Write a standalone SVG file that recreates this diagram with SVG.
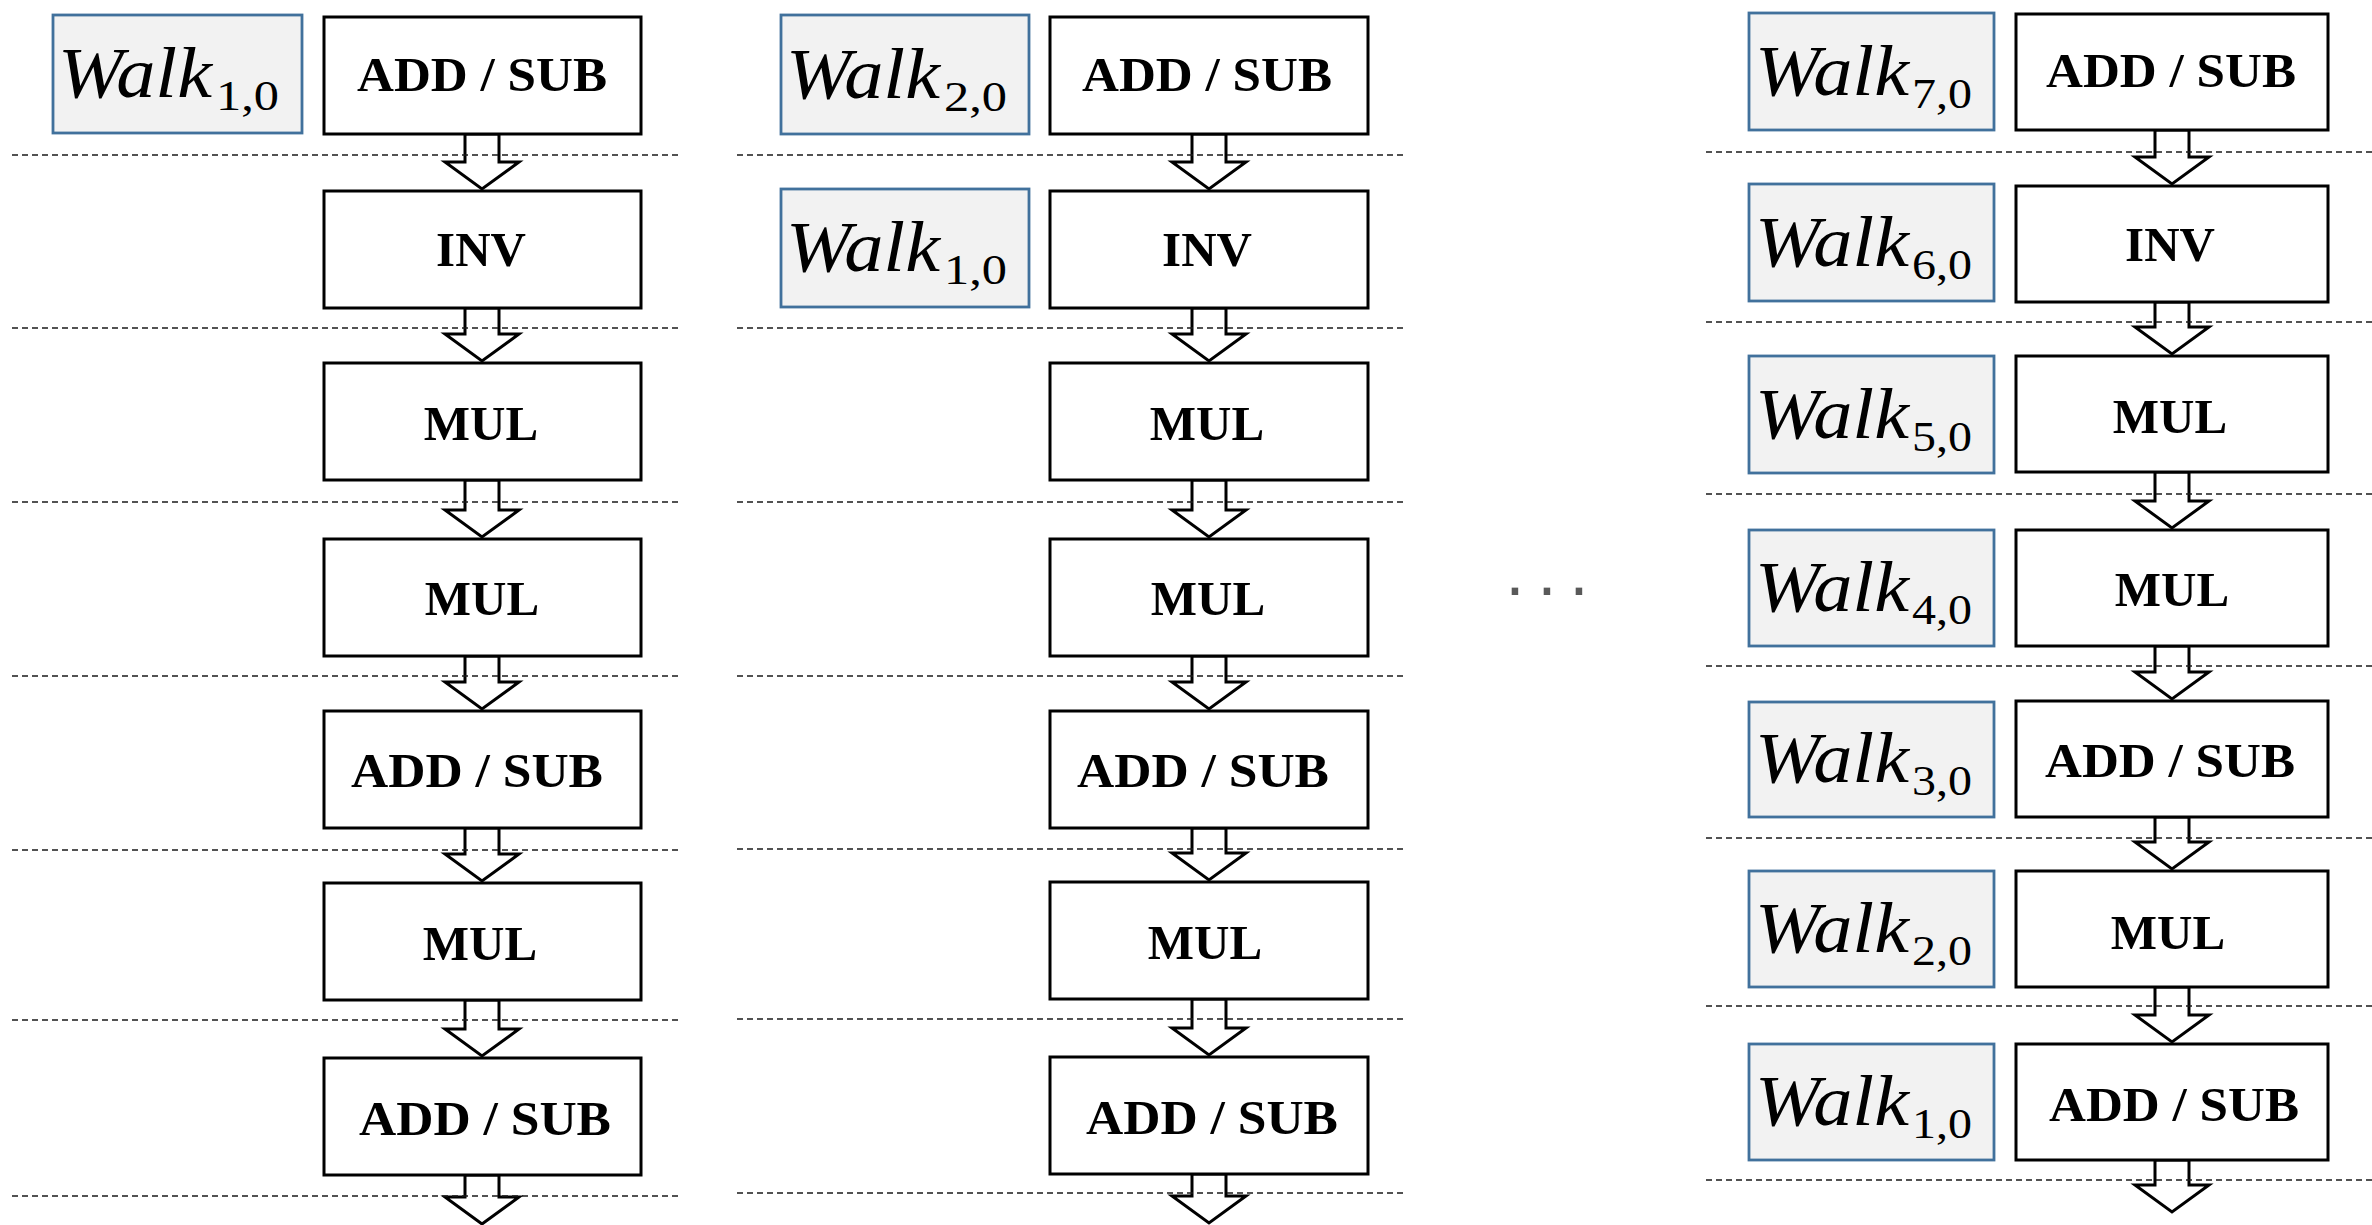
<svg xmlns="http://www.w3.org/2000/svg" width="2372" height="1225" viewBox="0 0 2372 1225">
  <style>
    .op rect { fill: #ffffff; stroke: #000000; stroke-width: 3; }
    .op text { font-family: "Liberation Serif", "Times New Roman", serif; font-weight: bold; font-size: 49px; text-anchor: middle; fill: #000000; }
    .walk rect { fill: #f2f2f2; stroke: #41719c; stroke-width: 2.8; }
    .walk .w { font-family: "Liberation Serif", "Times New Roman", serif; font-style: italic; font-size: 71px; fill: #000000; }
    .walk .s { font-family: "Liberation Serif", "Times New Roman", serif; font-size: 42px; fill: #000000; }
    .arrow { fill: #ffffff; stroke: #000000; stroke-width: 3; stroke-linejoin: miter; }
    .sep { stroke: #1a1a1a; stroke-width: 1.6; stroke-dasharray: 6 4; fill: none; }
    .dots { font-family: "Liberation Sans", Arial, sans-serif; font-size: 68px; fill: #595959; text-anchor: middle; }
  </style>

  <!-- block arrows between pipeline stages -->
  <g id="connectors">
    <!-- column 1, centre x = 482 -->
    <polygon class="arrow" points="465,134 499,134 499,162 519,162 482,189 445,162 465,162"/>
    <polygon class="arrow" points="465,308 499,308 499,334 519,334 482,361 445,334 465,334"/>
    <polygon class="arrow" points="465,480 499,480 499,510 519,510 482,537 445,510 465,510"/>
    <polygon class="arrow" points="465,656 499,656 499,682 519,682 482,709 445,682 465,682"/>
    <polygon class="arrow" points="465,828 499,828 499,854 519,854 482,881 445,854 465,854"/>
    <polygon class="arrow" points="465,1000 499,1000 499,1029 519,1029 482,1056 445,1029 465,1029"/>
    <polygon class="arrow" points="465,1175 499,1175 499,1197 519,1197 482,1224 445,1197 465,1197"/>
    <!-- column 2, centre x = 1209 -->
    <polygon class="arrow" points="1192,134 1226,134 1226,162 1246,162 1209,189 1172,162 1192,162"/>
    <polygon class="arrow" points="1192,308 1226,308 1226,334 1246,334 1209,361 1172,334 1192,334"/>
    <polygon class="arrow" points="1192,480 1226,480 1226,510 1246,510 1209,537 1172,510 1192,510"/>
    <polygon class="arrow" points="1192,656 1226,656 1226,682 1246,682 1209,709 1172,682 1192,682"/>
    <polygon class="arrow" points="1192,828 1226,828 1226,853 1246,853 1209,880 1172,853 1192,853"/>
    <polygon class="arrow" points="1192,999 1226,999 1226,1028 1246,1028 1209,1055 1172,1028 1192,1028"/>
    <polygon class="arrow" points="1192,1174 1226,1174 1226,1196 1246,1196 1209,1223 1172,1196 1192,1196"/>
    <!-- column 3, centre x = 2172 -->
    <polygon class="arrow" points="2155,130 2189,130 2189,157 2209,157 2172,184 2135,157 2155,157"/>
    <polygon class="arrow" points="2155,302 2189,302 2189,327 2209,327 2172,354 2135,327 2155,327"/>
    <polygon class="arrow" points="2155,472 2189,472 2189,501 2209,501 2172,528 2135,501 2155,501"/>
    <polygon class="arrow" points="2155,646 2189,646 2189,672 2209,672 2172,699 2135,672 2155,672"/>
    <polygon class="arrow" points="2155,817 2189,817 2189,842 2209,842 2172,869 2135,842 2155,842"/>
    <polygon class="arrow" points="2155,987 2189,987 2189,1015 2209,1015 2172,1042 2135,1015 2155,1015"/>
    <polygon class="arrow" points="2155,1160 2189,1160 2189,1185 2209,1185 2172,1212 2135,1185 2155,1185"/>
  </g>

  <!-- dashed stage boundaries -->
  <g id="stage-lines">
    <line class="sep" x1="12" y1="155" x2="681" y2="155"/>
    <line class="sep" x1="12" y1="328" x2="681" y2="328"/>
    <line class="sep" x1="12" y1="502" x2="681" y2="502"/>
    <line class="sep" x1="12" y1="676" x2="681" y2="676"/>
    <line class="sep" x1="12" y1="850" x2="681" y2="850"/>
    <line class="sep" x1="12" y1="1020" x2="681" y2="1020"/>
    <line class="sep" x1="12" y1="1196" x2="681" y2="1196"/>

    <line class="sep" x1="737" y1="155" x2="1407" y2="155"/>
    <line class="sep" x1="737" y1="328" x2="1407" y2="328"/>
    <line class="sep" x1="737" y1="502" x2="1407" y2="502"/>
    <line class="sep" x1="737" y1="676" x2="1407" y2="676"/>
    <line class="sep" x1="737" y1="849" x2="1407" y2="849"/>
    <line class="sep" x1="737" y1="1019" x2="1407" y2="1019"/>
    <line class="sep" x1="737" y1="1193" x2="1407" y2="1193"/>

    <line class="sep" x1="1706" y1="152" x2="2372" y2="152"/>
    <line class="sep" x1="1706" y1="322" x2="2372" y2="322"/>
    <line class="sep" x1="1706" y1="494" x2="2372" y2="494"/>
    <line class="sep" x1="1706" y1="666" x2="2372" y2="666"/>
    <line class="sep" x1="1706" y1="838" x2="2372" y2="838"/>
    <line class="sep" x1="1706" y1="1006" x2="2372" y2="1006"/>
    <line class="sep" x1="1706" y1="1180" x2="2372" y2="1180"/>
  </g>

  <!-- column 1 -->
  <g id="c1-walk1" class="walk">
    <rect x="53" y="15" width="249" height="118"/>
    <text class="w" x="58" y="97" textLength="154" lengthAdjust="spacingAndGlyphs">Walk</text>
    <text class="s" x="216" y="110" textLength="63" lengthAdjust="spacingAndGlyphs">1,0</text>
  </g>
  <g id="c1-op1" class="op"><rect x="324" y="17" width="317" height="117"/><text x="482" y="91" textLength="250" lengthAdjust="spacingAndGlyphs">ADD / SUB</text></g>
  <g id="c1-op2" class="op"><rect x="324" y="191" width="317" height="117"/><text x="481" y="266">INV</text></g>
  <g id="c1-op3" class="op"><rect x="324" y="363" width="317" height="117"/><text x="481" y="440">MUL</text></g>
  <g id="c1-op4" class="op"><rect x="324" y="539" width="317" height="117"/><text x="482" y="615">MUL</text></g>
  <g id="c1-op5" class="op"><rect x="324" y="711" width="317" height="117"/><text x="477" y="787" textLength="252" lengthAdjust="spacingAndGlyphs">ADD / SUB</text></g>
  <g id="c1-op6" class="op"><rect x="324" y="883" width="317" height="117"/><text x="480" y="960">MUL</text></g>
  <g id="c1-op7" class="op"><rect x="324" y="1058" width="317" height="117"/><text x="485" y="1135" textLength="252" lengthAdjust="spacingAndGlyphs">ADD / SUB</text></g>

  <!-- column 2 -->
  <g id="c2-walk2" class="walk">
    <rect x="781" y="15" width="248" height="119"/>
    <text class="w" x="786" y="98" textLength="154" lengthAdjust="spacingAndGlyphs">Walk</text>
    <text class="s" x="944" y="111" textLength="63" lengthAdjust="spacingAndGlyphs">2,0</text>
  </g>
  <g id="c2-walk1" class="walk">
    <rect x="781" y="189" width="248" height="118"/>
    <text class="w" x="786" y="271" textLength="154" lengthAdjust="spacingAndGlyphs">Walk</text>
    <text class="s" x="944" y="284" textLength="63" lengthAdjust="spacingAndGlyphs">1,0</text>
  </g>
  <g id="c2-op1" class="op"><rect x="1050" y="17" width="318" height="117"/><text x="1207" y="91" textLength="250" lengthAdjust="spacingAndGlyphs">ADD / SUB</text></g>
  <g id="c2-op2" class="op"><rect x="1050" y="191" width="318" height="117"/><text x="1207" y="266">INV</text></g>
  <g id="c2-op3" class="op"><rect x="1050" y="363" width="318" height="117"/><text x="1207" y="440">MUL</text></g>
  <g id="c2-op4" class="op"><rect x="1050" y="539" width="318" height="117"/><text x="1208" y="615">MUL</text></g>
  <g id="c2-op5" class="op"><rect x="1050" y="711" width="318" height="117"/><text x="1203" y="787" textLength="252" lengthAdjust="spacingAndGlyphs">ADD / SUB</text></g>
  <g id="c2-op6" class="op"><rect x="1050" y="882" width="318" height="117"/><text x="1205" y="959">MUL</text></g>
  <g id="c2-op7" class="op"><rect x="1050" y="1057" width="318" height="117"/><text x="1212" y="1134" textLength="252" lengthAdjust="spacingAndGlyphs">ADD / SUB</text></g>

  <!-- ellipsis between columns -->
  <g id="ellipsis">
    <text class="dots" x="1515 1547 1579" y="595">...</text>
  </g>

  <!-- column 3 -->
  <g id="c3-walk7" class="walk">
    <rect x="1749" y="13" width="245" height="117"/>
    <text class="w" x="1755" y="95" textLength="154" lengthAdjust="spacingAndGlyphs">Walk</text>
    <text class="s" x="1912" y="108" textLength="60" lengthAdjust="spacingAndGlyphs">7,0</text>
  </g>
  <g id="c3-walk6" class="walk">
    <rect x="1749" y="184" width="245" height="117"/>
    <text class="w" x="1755" y="266" textLength="154" lengthAdjust="spacingAndGlyphs">Walk</text>
    <text class="s" x="1912" y="279" textLength="60" lengthAdjust="spacingAndGlyphs">6,0</text>
  </g>
  <g id="c3-walk5" class="walk">
    <rect x="1749" y="356" width="245" height="117"/>
    <text class="w" x="1755" y="438" textLength="154" lengthAdjust="spacingAndGlyphs">Walk</text>
    <text class="s" x="1912" y="451" textLength="60" lengthAdjust="spacingAndGlyphs">5,0</text>
  </g>
  <g id="c3-walk4" class="walk">
    <rect x="1749" y="530" width="245" height="116"/>
    <text class="w" x="1755" y="611" textLength="154" lengthAdjust="spacingAndGlyphs">Walk</text>
    <text class="s" x="1912" y="624" textLength="60" lengthAdjust="spacingAndGlyphs">4,0</text>
  </g>
  <g id="c3-walk3" class="walk">
    <rect x="1749" y="702" width="245" height="115"/>
    <text class="w" x="1755" y="782" textLength="154" lengthAdjust="spacingAndGlyphs">Walk</text>
    <text class="s" x="1912" y="795" textLength="60" lengthAdjust="spacingAndGlyphs">3,0</text>
  </g>
  <g id="c3-walk2" class="walk">
    <rect x="1749" y="871" width="245" height="116"/>
    <text class="w" x="1755" y="952" textLength="154" lengthAdjust="spacingAndGlyphs">Walk</text>
    <text class="s" x="1912" y="965" textLength="60" lengthAdjust="spacingAndGlyphs">2,0</text>
  </g>
  <g id="c3-walk1" class="walk">
    <rect x="1749" y="1044" width="245" height="116"/>
    <text class="w" x="1755" y="1125" textLength="154" lengthAdjust="spacingAndGlyphs">Walk</text>
    <text class="s" x="1912" y="1138" textLength="60" lengthAdjust="spacingAndGlyphs">1,0</text>
  </g>
  <g id="c3-op1" class="op"><rect x="2016" y="14" width="312" height="116"/><text x="2171" y="87" textLength="250" lengthAdjust="spacingAndGlyphs">ADD / SUB</text></g>
  <g id="c3-op2" class="op"><rect x="2016" y="186" width="312" height="116"/><text x="2170" y="261">INV</text></g>
  <g id="c3-op3" class="op"><rect x="2016" y="356" width="312" height="116"/><text x="2170" y="433">MUL</text></g>
  <g id="c3-op4" class="op"><rect x="2016" y="530" width="312" height="116"/><text x="2172" y="606">MUL</text></g>
  <g id="c3-op5" class="op"><rect x="2016" y="701" width="312" height="116"/><text x="2170" y="777" textLength="250" lengthAdjust="spacingAndGlyphs">ADD / SUB</text></g>
  <g id="c3-op6" class="op"><rect x="2016" y="871" width="312" height="116"/><text x="2168" y="949">MUL</text></g>
  <g id="c3-op7" class="op"><rect x="2016" y="1044" width="312" height="116"/><text x="2174" y="1121" textLength="250" lengthAdjust="spacingAndGlyphs">ADD / SUB</text></g>
</svg>
